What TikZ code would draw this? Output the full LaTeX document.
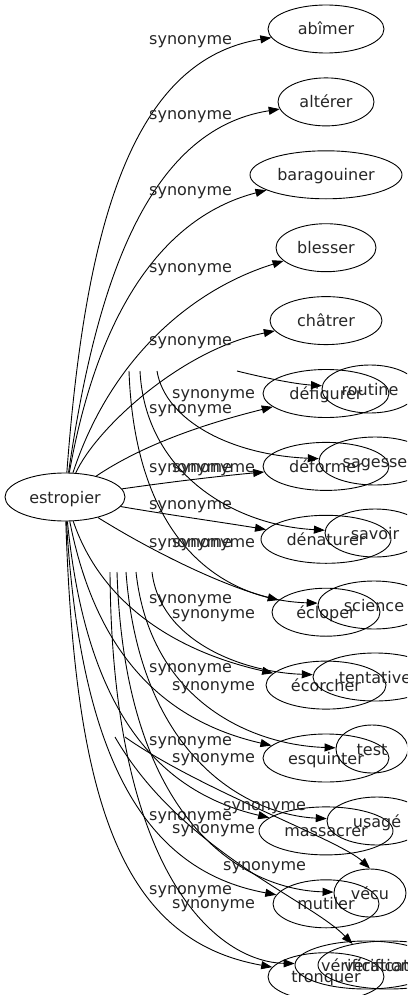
\documentclass[tikz,border=0pt]{standalone}
\usepackage{fontspec}
\setmainfont{DejaVu Sans}
\usetikzlibrary{shapes.geometric, arrows.meta, positioning}

\begin{document}
\begin{tikzpicture}[
  x=1pt, y=-1pt,
  node distance=24pt,
  word/.style={ellipse, draw, line width=0.9pt, minimum height=48pt, inner sep=0pt, text height=12pt, text depth=0pt, text=black!85, font=\fontsize{16}{19}\selectfont},
  syn/.style={anchor=base west, inner sep=0pt, text=black!85, font=\fontsize{16}{19}\selectfont},
  arrow/.style={-{Triangle[length=11pt, width=8pt]}, line width=0.9pt}
]
  \useasboundingbox (0,0) rectangle (407,995);
  \clip (0,0) rectangle (407,995);

  \node[word, minimum width=120pt] (estropier) at (65,497) {estropier};

  \node[word, minimum width=116pt] (abimer) at (326,29) {abîmer};
  \node[word, minimum width=96pt, below=of abimer] (alterer) {altérer};
  \node[word, minimum width=152pt, below=of alterer] (baragouiner) {baragouiner};
  \node[word, minimum width=100pt, below=of baragouiner] (blesser) {blesser};
  \node[word, minimum width=112pt, below=of blesser] (chatrer) {châtrer};
  \node[word, minimum width=126pt, below=of chatrer] (defigurer) {défigurer};
  \node[word, minimum width=126pt, below=of defigurer] (deformer) {déformer};
  \node[word, minimum width=130pt, below=of deformer] (denaturer) {dénaturer};
  \node[word, minimum width=108pt, below=of denaturer] (ecloper) {écloper};
  \node[word, minimum width=120pt, below=of ecloper] (ecorcher) {écorcher};
  \node[word, minimum width=126pt, below=of ecorcher] (esquinter) {esquinter};
  \node[word, minimum width=134pt, below=of esquinter] (massacrer) {massacrer};
  \node[word, minimum width=106pt, below=of massacrer] (mutiler) {mutiler};
  \node[word, minimum width=116pt, below=of mutiler] (tronquer) {tronquer};

  \node[word, minimum width=96pt] (routine) at (370,389) {routine};
  \node[word, minimum width=112pt] (sagesse) at (375,461) {sagesse};
  \node[word, minimum width=100pt] (savoir) at (375,533) {savoir};
  \node[word, minimum width=112pt] (science) at (374,605) {science};
  \node[word, minimum width=124pt] (tentative) at (375,677) {tentative};
  \node[word, minimum width=72pt] (test) at (372,749) {test};
  \node[word, minimum width=100pt] (usage) at (377,821) {usagé};
  \node[word, minimum width=72pt] (vecu) at (370,893) {vécu};
  \node[word, minimum width=142pt] (verifa) at (366,965) {vérification};
  \node[word, minimum width=142pt] (verifb) at (389,965) {vérification};

  \draw[arrow] (estropier) .. controls (85,230) and (130,60) .. (abimer);
  \draw[arrow] (estropier) .. controls (95,290) and (145,130) .. (alterer);
  \draw[arrow] (estropier) .. controls (100,300) and (170,215) .. (baragouiner);
  \draw[arrow] (estropier) .. controls (110,360) and (190,290) .. (blesser);
  \draw[arrow] (estropier) .. controls (95,430) and (180,350) .. (chatrer);
  \draw[arrow] (estropier) .. controls (150,440) and (220,420) .. (defigurer);
  \draw[arrow] (estropier) .. controls (170,482) and (220,476) .. (deformer);
  \draw[arrow] (estropier) .. controls (170,515) and (220,522) .. (denaturer);
  \draw[arrow] (estropier) .. controls (150,550) and (220,585) .. (ecloper);
  \draw[arrow] (estropier) .. controls (100,600) and (170,650) .. (ecorcher);
  \draw[arrow] (estropier) .. controls (95,650) and (160,720) .. (esquinter);
  \draw[arrow] (estropier) .. controls (85,700) and (150,790) .. (massacrer);
  \draw[arrow] (estropier) .. controls (80,750) and (140,870) .. (mutiler);
  \draw[arrow] (estropier) .. controls (75,800) and (120,940) .. (tronquer);

  \foreach \y in {45,120,195,272,345,413,472,509,547,603,672,745,820,894}
    \node[syn] at (149,\y) {synonyme};

  \coordinate (cutA) at (237,371);
  \coordinate (cutB) at (157,371);
  \coordinate (cutC) at (140,371);
  \coordinate (cutD) at (129,371);
  \coordinate (cutE) at (152,572);
  \coordinate (cutF) at (136,572);
  \coordinate (cutG) at (126,572);
  \coordinate (cutH) at (117,572);
  \coordinate (cutI) at (110,572);
  \coordinate (cutJ) at (125,737);
  \coordinate (cutK) at (115,737);

  \draw[arrow] (cutA) .. controls (265,378) and (295,384) .. (routine);
  \draw[arrow] (cutB) .. controls (165,420) and (230,455) .. (sagesse);
  \draw[arrow] (cutC) .. controls (145,470) and (230,525) .. (savoir);
  \draw[arrow] (cutD) .. controls (135,540) and (220,600) .. (science);
  \draw[arrow] (cutE) .. controls (160,640) and (240,672) .. (tentative);
  \draw[arrow] (cutF) .. controls (150,700) and (250,745) .. (test);
  \draw[arrow] (cutG) .. controls (140,760) and (250,815) .. (usage);
  \draw[arrow] (cutH) .. controls (125,830) and (250,890) .. (vecu);
  \draw[arrow] (cutI) .. controls (112,880) and (220,962) .. (verifa);
  \draw[arrow] (cutJ) .. controls (200,790) and (340,840) .. (vecu.north);
  \draw[arrow] (cutK) .. controls (180,850) and (310,900) .. (verifb.150);

  \foreach \y in {398,472,547,618,690,762,833,908}
    \node[syn] at (172,\y) {synonyme};
  \node[syn] at (223,810) {synonyme};
  \node[syn] at (223,870) {synonyme};

\end{tikzpicture}
\end{document}
